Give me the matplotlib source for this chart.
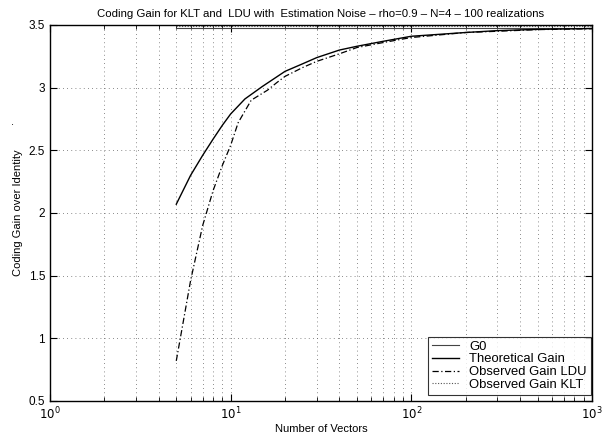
import matplotlib
matplotlib.use('Agg')
import matplotlib.pyplot as plt
from matplotlib.ticker import LogLocator, FixedLocator, NullFormatter

plt.rcParams['font.family'] = ['Liberation Sans', 'DejaVu Sans']
plt.rcParams['font.size'] = 8

# Data
n_theo = [5, 6, 7, 8, 9, 10, 12, 15, 20, 25, 30, 40, 50, 70, 100, 200, 300, 500, 700, 1000]
gain_theo = [2.07, 2.30, 2.46, 2.59, 2.70, 2.79, 2.91, 3.01, 3.13, 3.19, 3.24, 3.30,
             3.33, 3.37, 3.41, 3.44, 3.455, 3.465, 3.468, 3.472]

n_ldu = [5, 6, 7, 8, 9, 10, 11, 13, 16, 18, 20, 25, 30, 40, 50, 70, 100, 200, 300, 500, 700, 1000]
gain_ldu = [0.82, 1.46, 1.90, 2.18, 2.38, 2.54, 2.72, 2.90, 2.98, 3.04, 3.09, 3.16, 3.21,
            3.27, 3.32, 3.36, 3.40, 3.44, 3.45, 3.463, 3.467, 3.47]

n_flat = [5, 1000]
gain_g0 = [3.475, 3.475]
gain_klt = [3.488, 3.488]

fig = plt.figure(figsize=(6.04, 4.36), dpi=100)
ax = fig.add_axes([0.0828, 0.0803, 0.8972, 0.8624])

ax.plot(n_flat, gain_g0, color='#444444', lw=0.8, label='G0')
ax.plot(n_theo, gain_theo, color='black', lw=1.0, label='Theoretical Gain')
ax.plot(n_ldu, gain_ldu, color='black', lw=0.9, linestyle=(0, (5, 2, 1, 2)),
        label='Observed Gain LDU')
ax.plot(n_flat, gain_klt, color='#555555', lw=0.8, linestyle=(0, (1, 1.5)),
        label='Observed Gain KLT')

ax.set_xscale('log')
ax.set_xlim(1, 1000)
ax.set_ylim(0.5, 3.5)
ax.set_yticks([0.5, 1, 1.5, 2, 2.5, 3, 3.5])
ax.set_yticklabels(['0.5', '1', '1.5', '2', '2.5', '3', '3.5'])
ax.xaxis.set_major_locator(FixedLocator([1, 10, 100, 1000]))
ax.set_xticklabels(['$10^0$', '$10^1$', '$10^2$', '$10^3$'])
ax.xaxis.set_minor_locator(LogLocator(base=10, subs=range(2, 10)))
ax.xaxis.set_minor_formatter(NullFormatter())

ax.grid(True, which='both', axis='x', color='#666666', linestyle=(0, (1, 4)), lw=0.6)
ax.grid(True, which='major', axis='y', color='#666666', linestyle=(0, (1, 4)), lw=0.6)

ax.tick_params(which='both', direction='in', top=True, right=True, labelsize=8.5)
ax.tick_params(which='major', length=5)
ax.tick_params(which='minor', length=3)
for s in ax.spines.values():
    s.set_linewidth(1.0)

ax.set_title('Coding Gain for KLT and  LDU with  Estimation Noise \u2013 rho=0.9 \u2013 N=4 \u2013 100 realizations',
             fontsize=8.2, pad=6)
ax.set_xlabel('Number of Vectors', labelpad=1)
ax.set_ylabel('Coding Gain over Identity', labelpad=4)
fig.text(0.018, 0.713, '.', fontsize=8)

leg = ax.legend(loc='lower right', bbox_to_anchor=(0.998, 0.016), fontsize=9.4,
                frameon=True, fancybox=False, edgecolor='black', handlelength=2.1,
                handletextpad=0.8, borderpad=0.3, labelspacing=0.05, borderaxespad=0)
leg.get_frame().set_linewidth(0.8)

fig.savefig('out.png', dpi=100)
